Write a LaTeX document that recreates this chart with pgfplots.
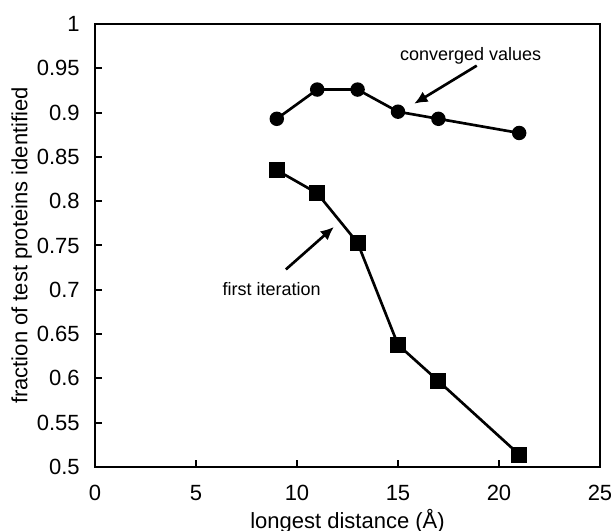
\documentclass[border=0pt]{standalone}
\usepackage{fontspec}
\setmainfont{Liberation Sans}
\usepackage{pgfplots}
\pgfplotsset{compat=1.18}
\usetikzlibrary{arrows.meta}
\begin{document}
\begin{tikzpicture}
\begin{axis}[
  name=ax,
  scale only axis, width=378.75pt, height=332.25pt,
  xmin=0, xmax=25, ymin=0.5, ymax=1,
  xtick={0,5,...,25}, ytick={0.5,0.55,...,1.0},
  yticklabels={0.5,0.55,0.6,0.65,0.7,0.75,0.8,0.85,0.9,0.95,1},
  tick align=inside, xtick pos=bottom, ytick pos=left,
  major tick length=5pt,
  /pgf/number format/assume math mode=true,
  tick label style={font=\fontsize{16.5}{18}\selectfont},
  yticklabel style={xshift=-8pt},
  xticklabel style={yshift=-10pt},
  label style={font=\fontsize{16.5}{19}\selectfont},
  xlabel={longest distance (Å)}, ylabel={fraction of test proteins identified},
  xlabel style={at={(axis description cs:0.5,-0.1219)}, anchor=center},
  ylabel style={at={(axis description cs:-0.1452,0.5)}, anchor=center},
  axis line style={line width=1.5pt}, every tick/.style={line width=1.5pt, black},
  clip=false,
]
\addplot[black, line width=2pt, mark=*, mark size=4.4pt] coordinates {
(9,0.893) (11,0.926) (13,0.926) (15,0.901) (17,0.893) (21,0.877)};
\addplot[black, line width=2pt, mark=square*, mark size=5pt] coordinates {
(9,0.835) (11,0.809) (13,0.753) (15,0.638) (17,0.597) (21,0.514)};
\node[font=\fontsize{13.5}{15}\selectfont] at (axis cs:18.6,0.964) {converged values};
\draw[-{Latex[length=10pt,width=9pt]}, line width=2pt] (axis cs:18.9,0.953) -- (axis cs:15.8,0.910);
\node[font=\fontsize{13.5}{15}\selectfont] at (axis cs:8.74,0.701) {first iteration};
\draw[-{Latex[length=10pt,width=9pt]}, line width=2pt] (axis cs:9.45,0.723) -- (axis cs:11.83,0.771);
\end{axis}
\pgfresetboundingbox
\path ([shift={(-71.25pt,-48pt)}]ax.south west) rectangle ([shift={(8.25pt,18pt)}]ax.north east);
\end{tikzpicture}
\end{document}
